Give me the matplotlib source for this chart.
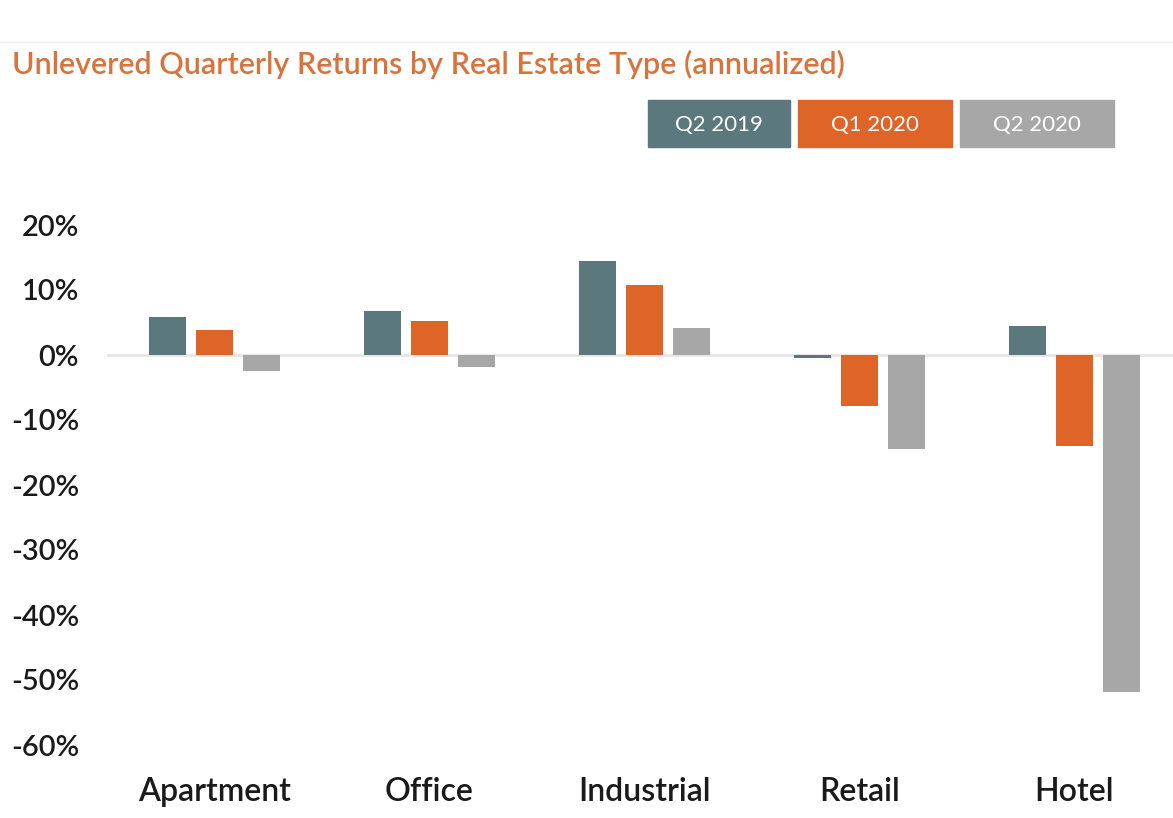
import numpy as np
import matplotlib
matplotlib.use('Agg')
import matplotlib.pyplot as plt
from matplotlib.patches import Rectangle
from matplotlib.lines import Line2D
from matplotlib.ticker import FuncFormatter

# data (annualized returns, %)
categories = ['Apartment', 'Office', 'Industrial', 'Retail', 'Hotel']
series_names = ['Q2 2019', 'Q1 2020', 'Q2 2020']
q2_2019 = [5.8, 6.8, 14.5, -0.4, 4.5]
q1_2020 = [3.8, 5.2, 10.8, -7.9, -14.0]
q2_2020 = [-2.4, -1.9, 4.1, -14.5, -51.8]
y_ticks = [20, 10, 0, -10, -20, -30, -40, -50, -60]

colors = ['#5B787C', '#DE6428', '#A7A7A7']
title_color = '#D9733B'

plt.rcParams['font.family'] = ['Lato', 'DejaVu Sans']

W, H = 1173, 818
fig = plt.figure(figsize=(W / 100, H / 100), dpi=100)
ax = fig.add_axes([107 / W, 1 - 745 / H, (1173 - 107) / W, (745 - 225) / H])

x = np.arange(len(categories))
width = 0.172
step = 0.219
for i, vals in enumerate([q2_2019, q1_2020, q2_2020]):
    ax.bar(x + (i - 1) * step, vals, width, color=colors[i], zorder=3)

ax.axhline(0, color='#E6E6E6', lw=2, zorder=2)
ax.set_xlim(-0.5, 4.46)
ax.set_ylim(-60, 20)
ax.set_yticks(y_ticks)
ax.yaxis.set_major_formatter(FuncFormatter(lambda v, p: f'{v:.0f}%'))
ax.set_xticks(x)
ax.set_xticklabels(categories, fontsize=23, color='#1a1a1a', fontweight='semibold')
ax.tick_params(axis='x', length=0, pad=23)
ax.tick_params(axis='y', length=0, pad=20, labelsize=21, labelcolor='#1a1a1a')
for lbl in ax.get_yticklabels():
    lbl.set_fontweight('semibold')
for s in ax.spines.values():
    s.set_visible(False)

# title and top divider
fig.add_artist(Line2D([0, 1], [1 - 42 / H, 1 - 42 / H], color='#EEEEEE', lw=1))
fig.text(12 / W, 1 - 64 / H, 'Unlevered Quarterly Returns by Real Estate Type (annualized)',
         color=title_color, fontsize=22, fontweight='semibold', va='center', ha='left')

# legend as coloured boxes
boxes = [(648, 790), (798, 952), (960, 1114)]
for (x0, x1), name, c in zip(boxes, series_names, colors):
    fig.add_artist(Rectangle((x0 / W, 1 - 147 / H), (x1 - x0) / W, 47 / H,
                             transform=fig.transFigure, color=c))
    fig.text((x0 + x1) / 2 / W, 1 - 125 / H, name, color='white', fontsize=16,
             ha='center', va='center')

fig.savefig('out.png', dpi=100)
